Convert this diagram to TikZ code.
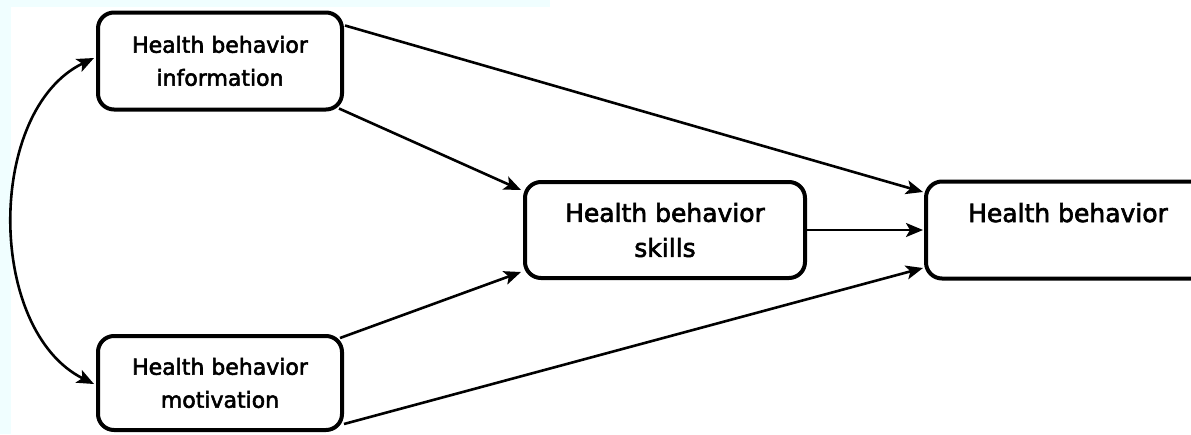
\documentclass[tikz,border=0pt]{standalone}
\usepackage{fontspec}
\setmainfont{DejaVu Sans}
\newfontfamily\boxfont{DejaVu Sans}[FakeBold=2.5]
\usetikzlibrary{arrows.meta,calc}
\definecolor{bgcyan}{RGB}{240,254,255}
\tikzset{
  box/.style={draw=black, line width=4pt, rounded corners=16pt, fill=white,
    align=center, inner sep=0pt, font=\boxfont\fontsize{22}{33}\selectfont},
  bigbox/.style={box, font=\boxfont\fontsize{25}{35}\selectfont},
  conn/.style={line width=2.6pt, -{Stealth[length=17pt,width=14pt,inset=4pt]}},
  dconn/.style={line width=2.6pt, {Stealth[length=17pt,width=14pt,inset=4pt]}-{Stealth[length=17pt,width=14pt,inset=4pt]}}
}
\begin{document}
\begin{tikzpicture}[x=1pt,y=-1pt]
\useasboundingbox (0,0) rectangle (1191,434);
\fill[white] (0,0) rectangle (1191,434);
\fill[bgcyan] (0,0) rectangle (11,434);
\fill[bgcyan] (0,0) rectangle (550,7);
\node[box, minimum width=244pt, minimum height=97pt] (info) at (220,61) {Health behavior\\information};
\node[box, minimum width=244pt, minimum height=94pt] (motiv) at (220,383) {Health behavior\\motivation};
\node[bigbox, minimum width=280pt, minimum height=96pt] (skills) at (665,230) {Health behavior\\skills};
\node[bigbox, minimum width=284pt, minimum height=97pt] (hb) at (1068,230) {Health behavior\\\mbox{}};
\draw[conn] ($(info.north east)+(1,15)$) -- ($(hb.west)+(-1,-38)$);
\draw[conn] ($(info.south east)+(-5,-3)$) -- ($(skills.west)+(-2,-40)$);
\draw[conn] ($(motiv.north east)+(-4,4)$) -- ($(skills.west)+(-2,42)$);
\draw[conn] (skills.east) -- ($(hb.west)+(-1,0)$);
\draw[conn] ($(motiv.south east)+(0,-8)$) -- ($(hb.west)+(-1,38)$);
\draw[dconn] ($(info.west)+(-2,-3)$) .. controls (-14,110) and (-14,330) .. ($(motiv.west)+(-2,1)$);
\end{tikzpicture}
\end{document}
